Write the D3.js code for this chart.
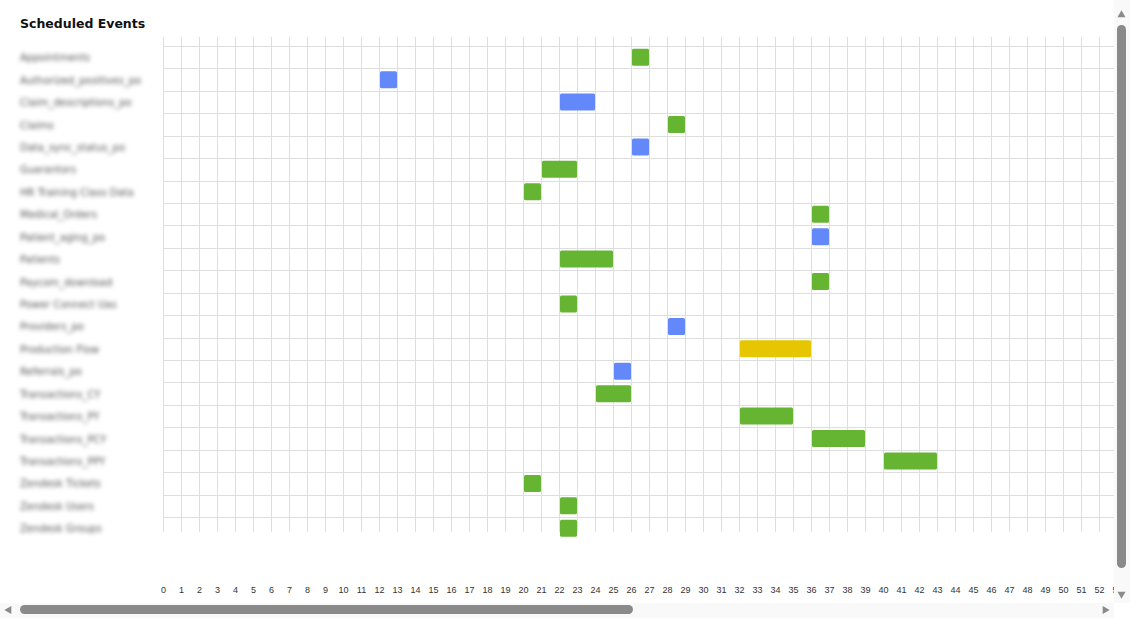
<!DOCTYPE html>
<html>
<head>
<meta charset="utf-8">
<script src="https://cdn.jsdelivr.net/npm/d3@7"></script>
<style>
  body { margin: 0; background: #fff; }
  .label { font-family: "DejaVu Sans", Verdana, sans-serif; font-size: 10px; fill: #555; filter: blur(2px); }
  .tick text { font-family: "Liberation Sans", Arial, sans-serif; font-size: 9px; fill: #333; }
</style>
</head>
<body>
<div id="chart"></div>
<script>
// ---------------- DATA ----------------
var jobs = ["Appointments", "Authorized_positives_po", "Claim_descriptions_po", "Claims",
  "Data_sync_status_po", "Guarantors", "HR Training Class Data", "Medical_Orders",
  "Patient_aging_po", "Patients", "Paycom_download", "Power Connect Uas",
  "Providers_po", "Production Flow", "Referrals_po", "Transactions_CY",
  "Transactions_PY", "Transactions_PCY", "Transactions_PPY", "Zendesk Tickets",
  "Zendesk Users", "Zendesk Groups"];
var starts = [26, 12, 22, 28, 26, 21, 20, 36, 36, 22, 36, 22, 28, 32, 25, 24, 32, 36, 40, 20, 22, 22];
var ends   = [27, 13, 24, 29, 27, 23, 21, 37, 37, 25, 37, 23, 29, 36, 26, 26, 35, 39, 43, 21, 23, 23];
var kinds  = ["ok", "po", "po", "ok", "po", "ok", "ok", "ok", "po", "ok", "ok", "ok",
  "po", "flow", "po", "ok", "ok", "ok", "ok", "ok", "ok", "ok"];
var weeks = d3.range(0, 54);

(function() {
  var width = 1145, height = 629;

  var svg = d3.select("#chart").append("svg")
    .attr("width", width).attr("height", height);

  var rows = jobs.map(function(j, i) {
    return { name: j, start: starts[i], end: ends[i], kind: kinds[i] };
  });

  var x = d3.scaleLinear().domain([0, 60]).range([163, 163 + 60 * 18]);
  var y = d3.scaleBand().domain(jobs).range([46, 46 + 22.43 * jobs.length]);
  var color = d3.scaleOrdinal().domain(["ok", "po", "flow"]).range(["#65b532", "#6388fa", "#e6c600"]);

  svg.append("defs").append("clipPath").attr("id", "clip")
    .append("rect").attr("x", 0).attr("y", 0).attr("width", 1114).attr("height", 600);

  var g = svg.append("g").attr("clip-path", "url(#clip)");

  // title
  svg.append("text").attr("x", 20).attr("y", 28)
    .style("font-family", "'DejaVu Sans', Verdana, sans-serif")
    .style("font-weight", "bold").style("font-size", "12.5px").style("fill", "#111")
    .text("Scheduled Events");

  // grid
  g.selectAll(".vline").data(weeks).enter().append("line")
    .attr("x1", function(d) { return x(d) + 0.5; }).attr("x2", function(d) { return x(d) + 0.5; })
    .attr("y1", 37).attr("y2", 532)
    .attr("stroke", "#dedede");
  g.selectAll(".hline").data(jobs).enter().append("line")
    .attr("x1", 163).attr("x2", 1114)
    .attr("y1", function(d) { return Math.round(y(d)) + 0.5; })
    .attr("y2", function(d) { return Math.round(y(d)) + 0.5; })
    .attr("stroke", "#dedede");

  // bars
  g.selectAll(".bar").data(rows).enter().append("rect")
    .attr("x", function(d) { return x(d.start) + 1; })
    .attr("width", function(d) { return x(d.end) - x(d.start) - 1; })
    .attr("y", function(d) { return y(d.name) + y.bandwidth() / 2 - 8.5; })
    .attr("height", 17)
    .attr("rx", 1.5)
    .attr("fill", function(d) { return color(d.kind); });

  // row labels
  svg.selectAll(".label").data(jobs).enter().append("text")
    .attr("class", "label")
    .attr("x", 20)
    .attr("y", function(d) { return y(d) + y.bandwidth() / 2 + 4; })
    .text(function(d) { return d; });

  // x axis
  var axis = g.append("g").attr("transform", "translate(0,590)")
    .call(d3.axisBottom(x).tickValues(weeks).tickSize(0).tickFormat(d3.format("d")));
  axis.select(".domain").remove();
  axis.selectAll("text").attr("dy", 0).attr("y", 3);

  // scrollbars
  svg.append("rect").attr("x", 1114).attr("y", 0).attr("width", 16).attr("height", 603).attr("fill", "#f9f9f9");
  svg.append("rect").attr("x", 0).attr("y", 603).attr("width", 1114).attr("height", 15).attr("fill", "#f9f9f9");
  svg.append("rect").attr("x", 1117).attr("y", 25).attr("width", 9).attr("height", 543).attr("rx", 4.5).attr("fill", "#8a8a8a");
  svg.append("rect").attr("x", 20).attr("y", 605).attr("width", 613).attr("height", 9).attr("rx", 4.5).attr("fill", "#8a8a8a");
  var tri = d3.symbol().type(d3.symbolTriangle).size(28);
  svg.append("path").attr("d", tri()).attr("fill", "#8a8a8a").attr("transform", "translate(1121.5,15)");
  svg.append("path").attr("d", tri()).attr("fill", "#8a8a8a").attr("transform", "translate(1121.5,594) rotate(180)");
  svg.append("path").attr("d", tri()).attr("fill", "#8a8a8a").attr("transform", "translate(9,610) rotate(-90)");
  svg.append("path").attr("d", tri()).attr("fill", "#8a8a8a").attr("transform", "translate(1105,610) rotate(90)");
})();
</script>
</body>
</html>
